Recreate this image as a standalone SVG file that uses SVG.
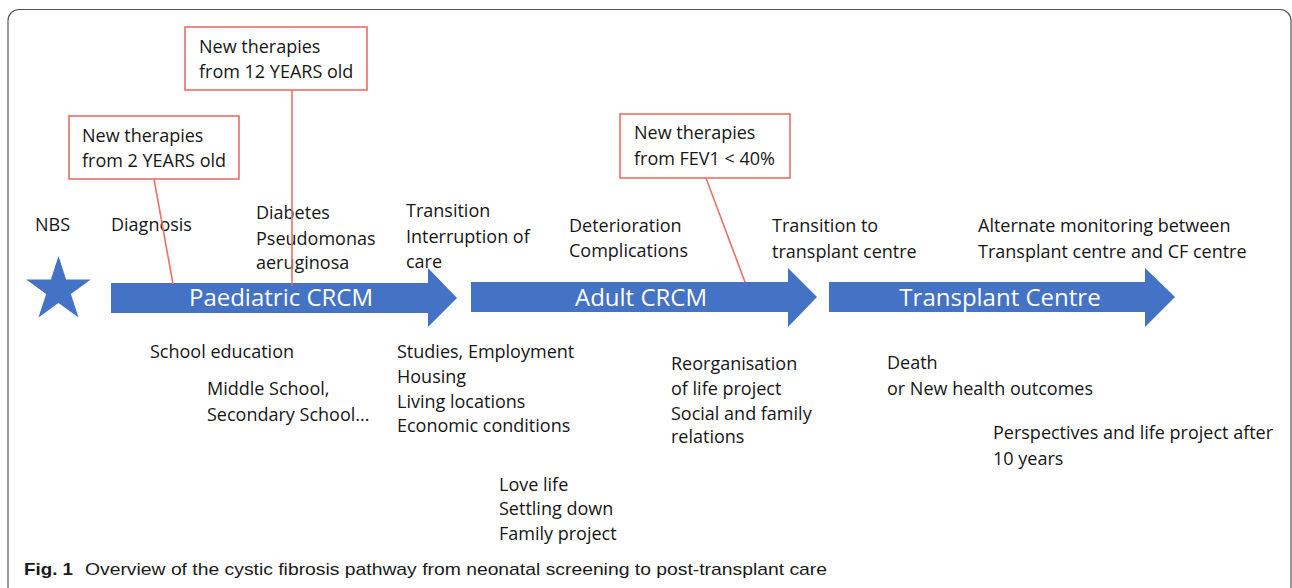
<svg xmlns="http://www.w3.org/2000/svg" width="1292" height="588" viewBox="0 0 1292 588">
<style>
.t{font-family:"Open Sans","Liberation Sans",sans-serif;font-size:18px;fill:#161616}
.lab{font-family:"Open Sans","Liberation Sans",sans-serif;font-size:24px;fill:#ffffff;text-anchor:middle}
.arrow{fill:#4472C4}
.box{fill:#ffffff;stroke:#EB6F68;stroke-width:1.6}
.con{stroke:#EB6F68;stroke-width:1.6;fill:none}
.cap{font-family:"Liberation Sans",Arial,sans-serif;font-size:17px;fill:#1a1a1a}
</style>
<rect x="8" y="9.5" width="1283" height="588" rx="11" fill="#ffffff" stroke="#555555" stroke-width="1.2"/>

<g id="nbs">
<polygon class="arrow" points="58.5,256 66.1,279.5 90.8,279.5 70.9,294 78.5,317.5 58.5,303 38.5,317.5 46.1,294 26.2,279.5 50.9,279.5"/>
<text class="t" x="35" y="231">NBS</text>
</g>

<g id="paediatric">
<polygon class="arrow" points="111,283 428,283 428,268 457,298 428,327 428,313 111,313"/>
<text class="lab" x="281" y="306">Paediatric CRCM</text>
</g>
<g id="adult">
<polygon class="arrow" points="471,282 788,282 788,268 817,297 788,327 788,312 471,312"/>
<text class="lab" x="641" y="306">Adult CRCM</text>
</g>
<g id="transplant">
<polygon class="arrow" points="829,282 1145,282 1145,268 1175,297 1145,327 1145,312 829,312"/>
<text class="lab" x="1000" y="306">Transplant Centre</text>
</g>

<g id="box-2years">
<rect class="box" x="69" y="116" width="170" height="63"/>
<text class="t" x="82" y="142">New therapies</text>
<text class="t" x="82" y="167">from 2 YEARS old</text>
</g>
<g id="box-12years">
<rect class="box" x="185" y="27" width="182" height="63"/>
<text class="t" x="199" y="53">New therapies</text>
<text class="t" x="199" y="78">from 12 YEARS old</text>
</g>
<g id="box-fev1">
<rect class="box" x="620" y="114" width="170" height="64"/>
<text class="t" x="634" y="139">New therapies</text>
<text class="t" x="634" y="165">from FEV1 &lt; 40%</text>
</g>

<g id="top-labels">
<text class="t" x="111" y="231">Diagnosis</text>
<text class="t" x="256" y="219">Diabetes</text>
<text class="t" x="256" y="245">Pseudomonas</text>
<text class="t" x="256" y="269">aeruginosa</text>
<text class="t" x="406" y="217">Transition</text>
<text class="t" x="406" y="243">Interruption of</text>
<text class="t" x="406" y="268">care</text>
<text class="t" x="569" y="232">Deterioration</text>
<text class="t" x="569" y="257">Complications</text>
<text class="t" x="772" y="232">Transition to</text>
<text class="t" x="772" y="258">transplant centre</text>
<text class="t" x="978" y="232">Alternate monitoring between</text>
<text class="t" x="978" y="258">Transplant centre and CF centre</text>
</g>

<g id="bottom-labels">
<text class="t" x="150" y="358">School education</text>
<text class="t" x="207" y="395">Middle School,</text>
<text class="t" x="207" y="421">Secondary School...</text>
<text class="t" x="397" y="358">Studies, Employment</text>
<text class="t" x="397" y="383">Housing</text>
<text class="t" x="397" y="408">Living locations</text>
<text class="t" x="397" y="432">Economic conditions</text>
<text class="t" x="499" y="491">Love life</text>
<text class="t" x="499" y="515">Settling down</text>
<text class="t" x="499" y="540">Family project</text>
<text class="t" x="671" y="370">Reorganisation</text>
<text class="t" x="671" y="395">of life project</text>
<text class="t" x="671" y="420">Social and family</text>
<text class="t" x="671" y="443">relations</text>
<text class="t" x="887" y="369">Death</text>
<text class="t" x="887" y="395">or New health outcomes</text>
<text class="t" x="993" y="439">Perspectives and life project after</text>
<text class="t" x="993" y="465">10 years</text>
</g>

<g id="connectors">
<line class="con" x1="154" y1="179" x2="173" y2="284"/>
<line class="con" x1="292" y1="90" x2="292" y2="286"/>
<line class="con" x1="706" y1="178" x2="745" y2="282"/>
</g>

<g id="caption">
<text class="cap" x="24" y="575" font-weight="bold" textLength="49" lengthAdjust="spacingAndGlyphs">Fig. 1</text>
<text class="cap" x="85" y="575" textLength="742" lengthAdjust="spacingAndGlyphs">Overview of the cystic fibrosis pathway from neonatal screening to post-transplant care</text>
</g>
</svg>
